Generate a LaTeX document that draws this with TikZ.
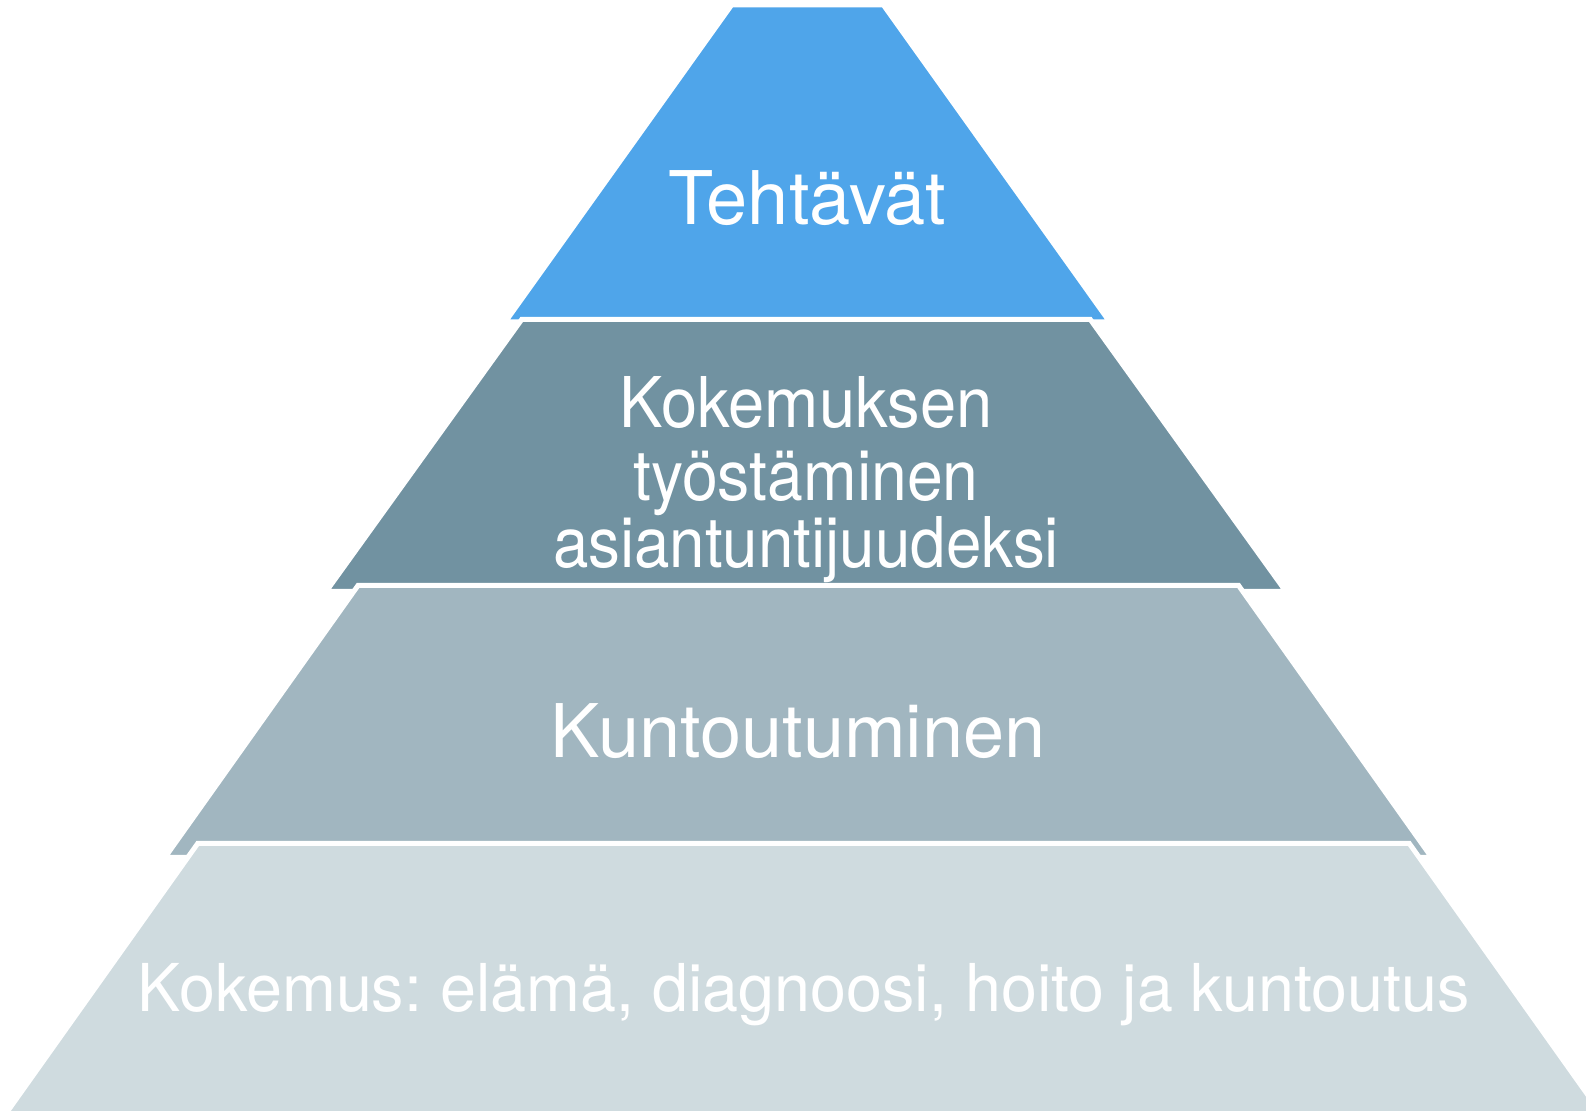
\documentclass[tikz,border=0pt]{standalone}
\usepackage{fontspec}
\setmainfont{TeX Gyre Heros}
\frenchspacing
\definecolor{taskblue}{HTML}{4FA5EA}
\definecolor{workgray}{HTML}{7192A1}
\definecolor{rehabgray}{HTML}{A1B6C0}
\definecolor{lifegray}{HTML}{CFDBDF}
\tikzstyle{tier}=[draw=white,line width=2.5pt,line join=miter]
\tikzstyle{tiertext}=[text=white,inner sep=0pt,anchor=base]

\begin{document}
\begin{tikzpicture}[x=.5pt,y=-.5pt]
	\useasboundingbox (0,0) rectangle (1586,1111);
	\clip (0,0) rectangle (1586,1111);

	%levels, top first so each lower one covers the one above
	\filldraw[tier,fill=taskblue] (731.7,4.8) -- (883.3,4.8) -- (1109.8,322) -- (505.2,322) -- cycle;
	\filldraw[tier,fill=workgray] (521.7,319.5) -- (1090.3,319.5) -- (1285.9,591.5) -- (326.1,591.5) -- cycle;
	\filldraw[tier,fill=rehabgray] (358,585.5) -- (1238.6,585.5) -- (1431.7,857.5) -- (164.9,857.5) -- cycle;
	\filldraw[tier,fill=lifegray] (197.7,843.5) -- (1409.3,843.5) -- (1601.4,1114) -- (5.6,1114) -- cycle;

	%texts
	\node[tiertext,font=\fontsize{37}{44}\selectfont] (tasks) at (807.5,225) {Tehtävät};
	\node[tiertext,font=\fontsize{35}{42}\selectfont] (work1) at (806,428) {\scalebox{.93}[1]{Kokemuksen}};
	\node[tiertext,font=\fontsize{35}{42}\selectfont] (work2) at (806,501) {\scalebox{.92}[1]{työstäminen}};
	\node[tiertext,font=\fontsize{35}{42}\selectfont] (work3) at (806,568) {\scalebox{.91}[1]{asiantuntijuudeksi}};
	\node[tiertext,font=\fontsize{37}{44}\selectfont] (rehab) at (798,758) {Kuntoutuminen};
	\node[tiertext,font=\fontsize{33}{40}\selectfont] (life) at (804,1012) {\scalebox{.98}[1]{Kokemus: elämä, diagnoosi, hoito ja kuntoutus}};
\end{tikzpicture}
\end{document}
